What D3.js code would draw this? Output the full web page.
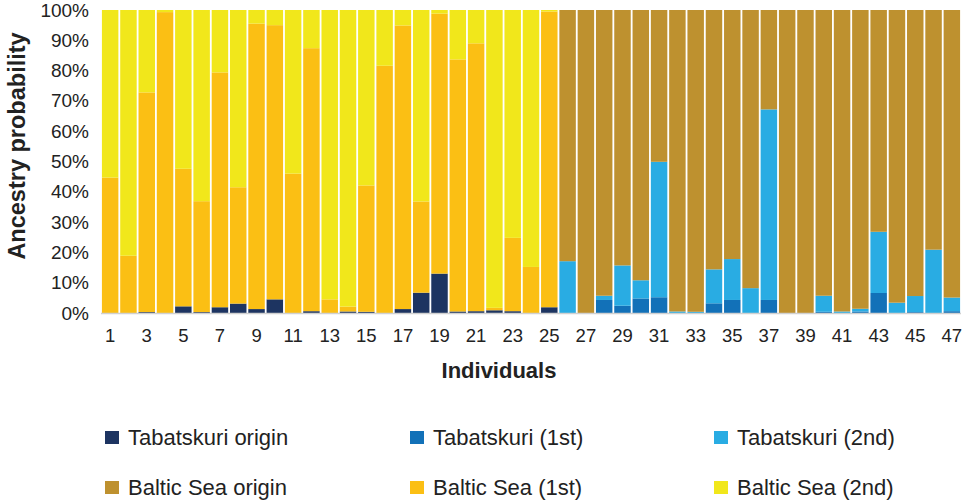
<!DOCTYPE html>
<html><head><meta charset="utf-8">
<script src="https://cdn.jsdelivr.net/npm/d3@7"></script>
<style>body{margin:0;background:#fff;} svg{display:block;font-family:"Liberation Sans",Arial,sans-serif;}</style>
</head><body>
<svg id="c" width="973" height="501"></svg>
<script>
const individuals = d3.range(1, 48);
const seriesNames = ["Tabatskuri origin","Tabatskuri (1st)","Tabatskuri (2nd)","Baltic Sea origin","Baltic Sea (1st)","Baltic Sea (2nd)"];
const seriesColors = ["#1d3461","#1271b8","#29ace3","#be912f","#fbbf14","#f1e71b"];
const tabOrigin = [0,0,0.3,0,2.2,0.3,1.9,3.1,1.3,4.5,0,0.6,0,0.5,0.4,0,1.3,6.7,13.0,0.5,0.6,0.9,0.6,0,1.9,
  0,0,0,0,0,0,0,0,0,0,0,0,0,0,0,0,0,0,0,0,0,0];
const tab1st = [0,0,0,0,0,0,0,0,0,0,0,0,0,0,0,0,0,0,0,0,0,0,0,0,0,
  0,0,4.3,2.4,4.8,5.2,0,0,3.2,4.3,0,4.3,0,0,0.4,0,0.5,6.6,0,0.3,0,0.6];
const tab2nd = [0,0,0,0,0,0,0,0,0,0,0,0,0,0,0,0,0,0,0,0,0,0,0,0,0,
  17.1,0,1.4,13.3,6.0,44.7,0.5,0.4,11.2,13.5,8.2,62.9,0,0,5.3,0.5,0.9,20.2,3.4,5.3,20.9,4.5];
const balticOrigin = individuals.map((d,i)=> i<25 ? 0 : 100 - tabOrigin[i] - tab1st[i] - tab2nd[i]);
const baltic1st = [44.7,18.9,72.5,99.3,45.4,36.6,77.5,38.4,94.2,90.5,46.0,86.8,4.5,1.6,41.7,81.6,93.6,30.1,85.8,83.2,88.4,0.8,24.2,15.2,97.6,
  0,0,0,0,0,0,0,0,0,0,0,0,0,0,0,0,0,0,0,0,0,0];
const baltic2nd = individuals.map((d,i)=> i<25 ? 100 - tabOrigin[i] - baltic1st[i] : 0);
const yTicks = [0,10,20,30,40,50,60,70,80,90,100];

const keys = ["tabOrigin","tab1st","tab2nd","balticOrigin","baltic1st","baltic2nd"];
const arrays = [tabOrigin,tab1st,tab2nd,balticOrigin,baltic1st,baltic2nd];
const rows = individuals.map((id,i)=>{const r={id}; keys.forEach((k,j)=>r[k]=arrays[j][i]); return r;});
const stack = d3.stack().keys(keys)(rows);

const svg = d3.select("#c");
const m = {l:101, r:12};
const W = 973;
const x = d3.scaleBand().domain(individuals).range([m.l, W-m.r]).paddingInner(0.1).paddingOuter(0.05);
const y = d3.scaleLinear().domain([0,100]).range([313, 10]);

svg.append("g").selectAll("g").data(stack).join("g").attr("fill",(d,i)=>seriesColors[i])
  .selectAll("rect").data(d=>d).join("rect")
  .attr("x",d=>x(d.data.id)).attr("width",x.bandwidth())
  .attr("y",d=>y(d[1])).attr("height",d=>Math.max(0,y(d[0])-y(d[1])));

svg.append("line").attr("x1",m.l).attr("x2",W-m.r).attr("y1",313.5).attr("y2",313.5).attr("stroke","#d0d0d0").attr("stroke-width",1.5);

const ya = svg.append("g").attr("transform",`translate(${m.l},0)`)
  .call(d3.axisLeft(y).tickValues(yTicks).tickFormat(d=>d+"%").tickSize(0).tickPadding(12));
ya.select(".domain").remove();
ya.selectAll("text").attr("font-size",19).attr("fill","#222").attr("font-family","Liberation Sans, Arial, sans-serif");

const xa = svg.append("g").attr("transform",`translate(0,313)`)
  .call(d3.axisBottom(x).tickValues(individuals.filter(d=>d%2===1)).tickSize(0).tickPadding(16));
xa.select(".domain").remove();
xa.selectAll("text").attr("font-size",18.5).attr("fill","#222").attr("font-family","Liberation Sans, Arial, sans-serif");

svg.append("text").attr("x",499).attr("y",378).attr("text-anchor","middle")
  .attr("font-size",22).attr("font-weight","bold").attr("fill","#222").text("Individuals");
svg.append("text").attr("transform","translate(25,146) rotate(-90)").attr("text-anchor","middle")
  .attr("font-size",23.5).attr("font-weight","bold").attr("fill","#222").text("Ancestry probability");

const legX = [105, 410, 714], legY = [445, 495];
const leg = svg.append("g").selectAll("g").data(seriesNames).join("g")
  .attr("transform",(d,i)=>`translate(${legX[i%3]},${legY[Math.floor(i/3)]})`);
leg.append("rect").attr("x",0).attr("y",-14).attr("width",14).attr("height",13).attr("fill",(d,i)=>seriesColors[i]);
leg.append("text").attr("x",23).attr("y",0).attr("font-size",22).attr("fill","#222").text(d=>d);
</script>
</body></html>
